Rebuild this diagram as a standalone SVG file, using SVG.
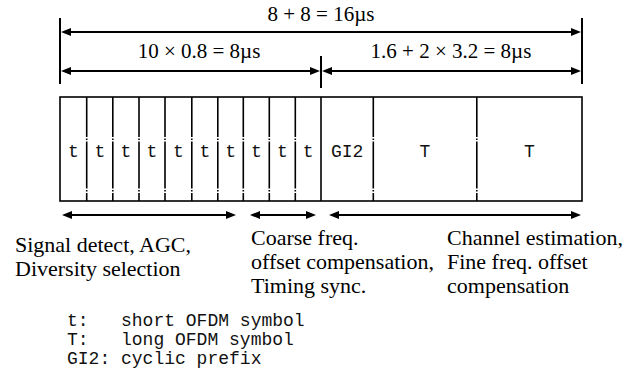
<svg xmlns="http://www.w3.org/2000/svg" width="635" height="377" viewBox="0 0 635 377">
<defs>
<marker id="ah" viewBox="0 0 10 8" refX="7" refY="4" markerWidth="10" markerHeight="8" markerUnits="userSpaceOnUse" orient="auto-start-reverse">
<path d="M0,0 L10,4 L0,8 z" fill="#000"/>
</marker>
<style>
.serif{font-family:"Liberation Serif","Times New Roman",serif;font-size:21px;fill:#000}
.lab{font-family:"Liberation Serif","Times New Roman",serif;font-size:22px;fill:#000}
.mono{font-family:"Liberation Mono","Courier New",monospace;font-size:18px;fill:#111}
.cell{font-family:"Liberation Mono","Courier New",monospace;font-size:18px;fill:#111;text-anchor:middle}
.arr{stroke:#000;stroke-width:2;fill:none;marker-start:url(#ah);marker-end:url(#ah)}
.tick{stroke:#000;stroke-width:2}
.div{stroke:#000;stroke-width:1.6;stroke-dasharray:40 1.5 1.5 1.5 47 1.5 1.5 1.5 20}
.box{stroke:#000;stroke-width:1.6;fill:#fff}
</style>
</defs>
<rect width="635" height="377" fill="#fff"/>

<g id="connectors">
<line class="tick" x1="60" y1="18" x2="60" y2="84"/>
<line class="tick" x1="582" y1="18" x2="582" y2="84"/>
<line class="tick" x1="321" y1="56" x2="321" y2="88"/>
<line class="arr" x1="64" y1="32" x2="578" y2="32"/>
<line class="arr" x1="64" y1="71" x2="317" y2="71"/>
<line class="arr" x1="325" y1="71" x2="578" y2="71"/>
<line class="arr" x1="65" y1="215" x2="233" y2="215"/>
<line class="arr" x1="253" y1="215" x2="313" y2="215"/>
<line class="arr" x1="332" y1="215" x2="578" y2="215"/>
</g>

<g id="durations">
<text class="serif" x="321" y="21" text-anchor="middle">8 + 8 = 16µs</text>
<text class="serif" x="199" y="58" text-anchor="middle">10 × 0.8 = 8µs</text>
<text class="serif" x="451" y="58" text-anchor="middle">1.6 + 2 × 3.2 = 8µs</text>
</g>

<g id="frame">
<rect class="box" x="60" y="97" width="522" height="104"/>
<line class="div" x1="86.7" y1="97" x2="86.7" y2="201"/>
<line class="div" x1="112.8" y1="97" x2="112.8" y2="201"/>
<line class="div" x1="139" y1="97" x2="139" y2="201"/>
<line class="div" x1="165" y1="97" x2="165" y2="201"/>
<line class="div" x1="191.8" y1="97" x2="191.8" y2="201"/>
<line class="div" x1="217.8" y1="97" x2="217.8" y2="201"/>
<line class="div" x1="243.3" y1="97" x2="243.3" y2="201"/>
<line class="div" x1="269.3" y1="97" x2="269.3" y2="201"/>
<line class="div" x1="295.3" y1="97" x2="295.3" y2="201"/>
<line stroke="#000" stroke-width="1.6" x1="321" y1="97" x2="321" y2="201"/>
<line class="div" x1="373.3" y1="97" x2="373.3" y2="201"/>
<line class="div" x1="476.8" y1="97" x2="476.8" y2="201"/>
</g>

<g id="cells">
<text class="cell" x="73.4" y="157">t</text>
<text class="cell" x="99.8" y="157">t</text>
<text class="cell" x="125.9" y="157">t</text>
<text class="cell" x="152" y="157">t</text>
<text class="cell" x="178.4" y="157">t</text>
<text class="cell" x="204.8" y="157">t</text>
<text class="cell" x="230.6" y="157">t</text>
<text class="cell" x="256.3" y="157">t</text>
<text class="cell" x="282.3" y="157">t</text>
<text class="cell" x="308.2" y="157">t</text>
<text class="cell" x="347.2" y="157">GI2</text>
<text class="cell" x="425" y="157">T</text>
<text class="cell" x="529.4" y="157">T</text>
</g>

<g id="label-signal">
<text class="lab" x="15" y="252">Signal detect, AGC,</text>
<text class="lab" x="15" y="276">Diversity selection</text>
</g>
<g id="label-coarse">
<text class="lab" x="251" y="245">Coarse freq.</text>
<text class="lab" x="251" y="269">offset compensation,</text>
<text class="lab" x="251" y="293">Timing sync.</text>
</g>
<g id="label-channel">
<text class="lab" x="447" y="245">Channel estimation,</text>
<text class="lab" x="447" y="269">Fine freq. offset</text>
<text class="lab" x="447" y="293">compensation</text>
</g>

<g id="legend">
<text class="mono" x="67" y="326" xml:space="preserve">t:   short OFDM symbol</text>
<text class="mono" x="67" y="345" xml:space="preserve">T:   long OFDM symbol</text>
<text class="mono" x="67" y="364" xml:space="preserve">GI2: cyclic prefix</text>
</g>
</svg>
